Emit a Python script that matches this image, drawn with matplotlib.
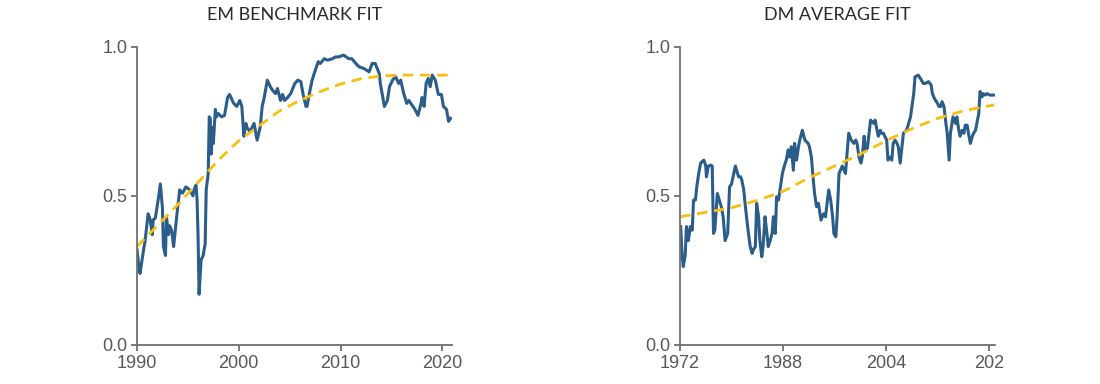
import numpy as np
import matplotlib
matplotlib.use("Agg")
from matplotlib import pyplot as plt

# EM benchmark fit (left panel)
em_years = [1990.0, 1990.2, 1990.3, 1990.7, 1990.8, 1991.1, 1991.3, 1991.5, 1991.6, 1991.8,
            1992.1, 1992.3, 1992.5, 1992.6, 1992.8, 1992.9, 1993.1, 1993.2, 1993.4, 1993.6,
            1993.9, 1994.0, 1994.2, 1994.4, 1994.5, 1994.8, 1995.2, 1995.5, 1995.6, 1995.8,
            1995.9, 1996.0, 1996.1, 1996.3, 1996.5, 1996.7, 1996.8, 1997.0, 1997.1, 1997.2,
            1997.3, 1997.4, 1997.5, 1997.7, 1997.8, 1998.0, 1998.3, 1998.6, 1998.9, 1999.1,
            1999.5, 1999.8, 2000.1, 2000.3, 2000.5, 2000.7, 2000.8, 2001.1, 2001.5, 2001.8,
            2002.1, 2002.3, 2002.5, 2002.8, 2003.1, 2003.3, 2003.6, 2003.8, 2004.1, 2004.3,
            2004.5, 2004.8, 2005.1, 2005.5, 2005.8, 2006.1, 2006.3, 2006.6, 2006.7, 2007.0,
            2007.2, 2007.5, 2007.8, 2008.0, 2008.4, 2008.7, 2009.2, 2009.5, 2009.8, 2010.3,
            2010.8, 2011.1, 2011.5, 2011.8, 2012.3, 2012.8, 2013.1, 2013.4, 2013.8, 2013.9,
            2014.3, 2014.6, 2014.8, 2015.1, 2015.4, 2015.7, 2015.9, 2016.2, 2016.5, 2016.7,
            2017.0, 2017.3, 2017.6, 2017.9, 2018.0, 2018.2, 2018.4, 2018.6, 2018.8, 2019.0,
            2019.3, 2019.6, 2019.9, 2020.1, 2020.4, 2020.6, 2020.8]
em_vals = [0.32, 0.26, 0.24, 0.33, 0.35, 0.44, 0.42, 0.37, 0.42, 0.425,
           0.49, 0.54, 0.46, 0.33, 0.30, 0.43, 0.37, 0.40, 0.385, 0.33,
           0.43, 0.46, 0.52, 0.51, 0.51, 0.53, 0.52, 0.50, 0.52, 0.536,
           0.49, 0.37, 0.17, 0.285, 0.30, 0.34, 0.52, 0.575, 0.765, 0.76,
           0.64, 0.73, 0.676, 0.79, 0.765, 0.776, 0.765, 0.77, 0.83, 0.84,
           0.81, 0.80, 0.82, 0.80, 0.70, 0.743, 0.73, 0.715, 0.743, 0.687,
           0.73, 0.80, 0.83, 0.888, 0.866, 0.855, 0.843, 0.86, 0.82, 0.84,
           0.82, 0.83, 0.843, 0.877, 0.888, 0.883, 0.843, 0.80, 0.80, 0.855,
           0.888, 0.92, 0.95, 0.944, 0.96, 0.955, 0.96, 0.966, 0.966, 0.972,
           0.96, 0.96, 0.944, 0.933, 0.927, 0.916, 0.944, 0.944, 0.91, 0.877,
           0.80, 0.82, 0.866, 0.888, 0.90, 0.877, 0.888, 0.843, 0.81, 0.82,
           0.805, 0.79, 0.77, 0.81, 0.83, 0.80, 0.877, 0.894, 0.866, 0.905,
           0.888, 0.84, 0.84, 0.80, 0.79, 0.75, 0.76]
em_fit_years = [1990, 1992, 1994, 1996, 1998, 2000, 2002, 2004, 2006, 2008, 2010, 2012, 2014,
                2016, 2018, 2020.8]
em_fit_vals = [0.33, 0.40, 0.47, 0.545, 0.62, 0.685, 0.735, 0.785, 0.82, 0.85, 0.875, 0.893,
               0.902, 0.905, 0.905, 0.905]

# DM average fit (right panel)
dm_years = [1972.1, 1972.3, 1972.5, 1972.8, 1973.0, 1973.3, 1973.6, 1973.9, 1974.1, 1974.4,
            1974.6, 1974.9, 1975.2, 1975.7, 1976.0, 1976.1, 1976.4, 1976.8, 1977.0, 1977.2,
            1977.4, 1977.8, 1978.1, 1978.4, 1978.7, 1979.0, 1979.4, 1979.7, 1980.0, 1980.6,
            1981.1, 1981.4, 1981.6, 1981.9, 1982.1, 1982.5, 1982.9, 1983.2, 1983.4, 1983.7,
            1983.9, 1984.2, 1984.4, 1984.7, 1984.9, 1985.2, 1985.5, 1985.7, 1986.0, 1986.3,
            1986.5, 1986.8, 1987.0, 1987.3, 1987.6, 1987.9, 1988.2, 1988.5, 1988.8, 1989.0,
            1989.3, 1989.6, 1989.8, 1990.1, 1990.4, 1990.6, 1991.0, 1991.4, 1991.9, 1992.1,
            1992.4, 1992.7, 1992.9, 1993.2, 1993.5, 1993.9, 1994.3, 1994.6, 1994.9, 1995.1,
            1995.4, 1995.7, 1995.9, 1996.2, 1996.4, 1996.7, 1997.2, 1997.7, 1997.9, 1998.2,
            1998.6, 1999.0, 1999.3, 1999.5, 1999.8, 2000.1, 2000.3, 2000.6, 2000.8, 2001.1,
            2001.6, 2002.1, 2002.3, 2002.6, 2002.8, 2003.1, 2003.3, 2003.6, 2003.8, 2004.1,
            2004.3, 2004.6, 2004.9, 2005.1, 2005.4, 2005.7, 2005.9, 2006.2, 2006.7, 2007.2,
            2007.8, 2008.3, 2008.5, 2009.0, 2009.5, 2009.8, 2010.1, 2010.6, 2011.0, 2011.2,
            2011.5, 2011.7, 2012.0, 2012.2, 2012.5, 2012.7, 2013.0, 2013.3, 2013.5, 2013.8,
            2014.0, 2014.4, 2014.8, 2015.0, 2015.3, 2015.5, 2015.8, 2016.1, 2016.3, 2016.6,
            2016.8, 2017.1, 2017.4, 2017.6, 2017.9, 2018.1, 2018.4, 2018.6, 2018.9, 2019.1,
            2019.4, 2019.7, 2020.1, 2020.3, 2020.8]
dm_vals = [0.397, 0.307, 0.263, 0.30, 0.397, 0.35, 0.397, 0.385, 0.486, 0.486,
           0.53, 0.575, 0.61, 0.62, 0.60, 0.564, 0.60, 0.603, 0.60, 0.374,
           0.385, 0.508, 0.486, 0.464, 0.43, 0.35, 0.374, 0.53, 0.54, 0.60,
           0.564, 0.564, 0.553, 0.52, 0.475, 0.397, 0.33, 0.307, 0.32, 0.33,
           0.475, 0.43, 0.35, 0.296, 0.33, 0.43, 0.374, 0.33, 0.35, 0.374,
           0.43, 0.374, 0.497, 0.486, 0.53, 0.575, 0.60, 0.62, 0.654, 0.63,
           0.665, 0.586, 0.676, 0.62, 0.665, 0.687, 0.72, 0.687, 0.676, 0.665,
           0.63, 0.553, 0.508, 0.464, 0.475, 0.419, 0.44, 0.43, 0.486, 0.52,
           0.486, 0.43, 0.374, 0.363, 0.43, 0.575, 0.60, 0.575, 0.63, 0.71,
           0.687, 0.676, 0.687, 0.676, 0.63, 0.61, 0.63, 0.70, 0.654, 0.66,
           0.754, 0.743, 0.754, 0.72, 0.70, 0.72, 0.71, 0.71, 0.70, 0.687,
           0.62, 0.63, 0.62, 0.676, 0.687, 0.676, 0.665, 0.61, 0.71, 0.72,
           0.765, 0.843, 0.899, 0.905, 0.888, 0.877, 0.877, 0.883, 0.872, 0.843,
           0.827, 0.82, 0.81, 0.80, 0.80, 0.816, 0.80, 0.743, 0.71, 0.62,
           0.71, 0.765, 0.743, 0.765, 0.72, 0.70, 0.72, 0.71, 0.737, 0.737,
           0.71, 0.676, 0.70, 0.71, 0.72, 0.743, 0.776, 0.85, 0.832, 0.843,
           0.838, 0.843, 0.838, 0.838, 0.838]
dm_fit_years = [1972, 1976, 1980, 1984, 1988, 1992, 1996, 2000, 2004, 2008, 2012, 2016, 2020.8]
dm_fit_vals = [0.43, 0.445, 0.46, 0.485, 0.515, 0.56, 0.60, 0.64, 0.685, 0.725, 0.76, 0.785, 0.805]

em_xticks = [1990, 2000, 2010, 2020]
em_xlabels = ["1990", "2000", "2010", "2020"]
dm_xticks = [1972, 1988, 2004, 2020]
dm_xlabels = ["1972", "1988", "2004", "202"]
yticks = [0.0, 0.5, 1.0]

blue = "#2b5d8a"
gold = "#f7bf10"
grey = "#707070"

plt.rcParams['font.family'] = ['Liberation Sans', 'DejaVu Sans']

fig = plt.figure(figsize=(11, 3.84), dpi=100)
ax1 = fig.add_axes([0.1245, 0.1016, 0.2865, 0.7766])
ax2 = fig.add_axes([0.6182, 0.1016, 0.2865, 0.7766])


def style(ax, title, xticks, xlabels, xmin, xmax):
    ax.set_xlim(xmin, xmax)
    ax.set_ylim(0, 1)
    ax.set_yticks(yticks)
    ax.set_yticklabels(["%.1f" % v for v in yticks])
    ax.set_xticks(xticks)
    ax.set_xticklabels(xlabels)
    for s in ["top", "right"]:
        ax.spines[s].set_visible(False)
    for s in ["left", "bottom"]:
        ax.spines[s].set_color(grey)
        ax.spines[s].set_linewidth(1.3)
    ax.tick_params(colors=grey, labelcolor="#585858", labelsize=13, length=4, width=1.3, pad=3)
    ax.set_title(title, fontsize=13, family=['Lato', 'DejaVu Sans'], color="#2a2a2a",
                 pad=19)


ax1.plot(em_years, em_vals, color=blue, lw=2.2, solid_joinstyle='round')
ax1.plot(em_fit_years, em_fit_vals, color=gold, lw=2.0, dashes=(3.8, 2.4))
style(ax1, "EM BENCHMARK FIT", em_xticks, em_xlabels, 1990, 2020.95)

ax2.plot(dm_years, dm_vals, color=blue, lw=2.2, solid_joinstyle='round')
ax2.plot(dm_fit_years, dm_fit_vals, color=gold, lw=2.0, dashes=(3.8, 2.4))
style(ax2, "DM AVERAGE FIT", dm_xticks, dm_xlabels, 1972, 2020.95)

fig.savefig("out.png", dpi=100)
